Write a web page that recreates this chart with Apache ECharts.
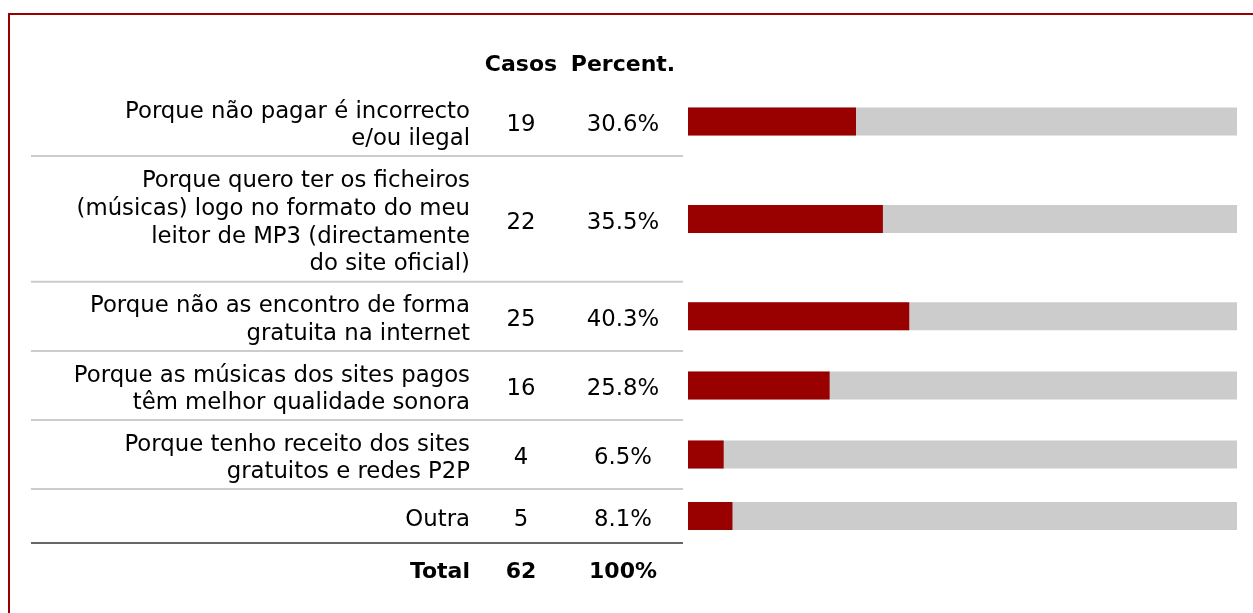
<!DOCTYPE html>
<html>
<head>
<meta charset="utf-8">
<script src="https://cdn.jsdelivr.net/npm/echarts@6/dist/echarts.min.js"></script>
<style>
  html, body { margin: 0; padding: 0; background: #ffffff; }
  #chart { width: 1253px; height: 613px; }
</style>
</head>
<body>
<div id="chart"></div>
<script>
// ---- data ----
const categories = [
  "Porque não pagar é incorrecto\ne/ou ilegal",
  "Porque quero ter os ficheiros\n(músicas) logo no formato do meu\nleitor de MP3 (directamente\ndo site oficial)",
  "Porque não as encontro de forma\ngratuita na internet",
  "Porque as músicas dos sites pagos\ntêm melhor qualidade sonora",
  "Porque tenho receito dos sites\ngratuitos e redes P2P",
  "Outra"
];
const casos = [19, 22, 25, 16, 4, 5];
const percent = [30.6, 35.5, 40.3, 25.8, 6.5, 8.1];
const headers = ["Casos", "Percent."];
const totalRow = ["Total", "62", "100%"];

// ---- layout (pixels) ----
const W = 1253, H = 613;
const FONT = '"DejaVu Sans", Verdana, sans-serif';
const FS = 22.8, FSB = 22, LH = 27.6;
const TXT_DY = 4;
const HEADER_Y = 65;
const FIRST_TOP = 87;
const LABEL_RIGHT = 470, CASOS_X = 521, PCT_X = 623;
const LINE_L = 31, LINE_R = 683;
const BAR_H = 28;
const RED = '#990000', TRACK = '#cccccc';

function rowHeight(n) { return Math.max(n * 28.3 + 12.5, 54); }
const rows = [];
let rowTop = FIRST_TOP;
categories.forEach((c, i) => {
  const n = c.split('\n').length;
  const h = rowHeight(n);
  rows.push({ top: rowTop, bottom: rowTop + h, center: rowTop + h / 2 });
  rowTop += h;
});
const tableBottom = rowTop;
const totalCenter = tableBottom + 28;

const seriesData = categories.map((c, i) => [percent[i], rows[i].center, i]);

const chart = echarts.init(document.getElementById('chart'), null, { renderer: 'canvas' });

chart.setOption({
  backgroundColor: '#ffffff',
  animation: false,
  grid: { left: 688, right: W - 1237, top: 0, bottom: 0 },
  xAxis: { type: 'value', min: 0, max: 100, show: false },
  yAxis: { type: 'value', min: 0, max: H, inverse: true, show: false },
  series: [{
    type: 'custom',
    data: seriesData,
    clip: false,
    renderItem: function (params, api) {
      const i = api.value(2);
      const pct = api.value(0);
      const cy = api.value(1);
      const p0 = api.coord([0, cy]);
      const p1 = api.coord([100, cy]);
      const pv = api.coord([pct, cy]);
      const r = rows[i];
      const ty = cy + TXT_DY;
      const children = [
        { type: 'rect', shape: { x: p0[0], y: p0[1] - BAR_H / 2, width: p1[0] - p0[0], height: BAR_H }, style: { fill: TRACK } },
        { type: 'rect', shape: { x: p0[0], y: p0[1] - BAR_H / 2, width: pv[0] - p0[0], height: BAR_H }, style: { fill: RED } },
        { type: 'text', style: { text: categories[i], x: LABEL_RIGHT, y: ty, align: 'right', verticalAlign: 'middle', font: FS + 'px ' + FONT, lineHeight: LH, fill: '#000' } },
        { type: 'text', style: { text: String(casos[i]), x: CASOS_X, y: ty, align: 'center', verticalAlign: 'middle', font: FS + 'px ' + FONT, fill: '#000' } },
        { type: 'text', style: { text: percent[i].toFixed(1) + '%', x: PCT_X, y: ty, align: 'center', verticalAlign: 'middle', font: FS + 'px ' + FONT, fill: '#000' } }
      ];
      const last = i === categories.length - 1;
      children.push({
        type: 'line',
        shape: { x1: LINE_L, y1: r.bottom, x2: LINE_R, y2: r.bottom },
        style: { stroke: last ? '#666666' : '#cccccc', lineWidth: 2 }
      });
      return { type: 'group', children: children };
    }
  }],
  graphic: [
    { type: 'polyline', shape: { points: [[9, H + 5], [9, 14], [W + 5, 14]] }, style: { stroke: RED, lineWidth: 2, fill: null } },
    { type: 'text', style: { text: headers[0], x: CASOS_X, y: HEADER_Y, align: 'center', verticalAlign: 'middle', font: 'bold ' + FSB + 'px ' + FONT, fill: '#000' } },
    { type: 'text', style: { text: headers[1], x: PCT_X, y: HEADER_Y, align: 'center', verticalAlign: 'middle', font: 'bold ' + FSB + 'px ' + FONT, fill: '#000' } },
    { type: 'text', style: { text: totalRow[0], x: LABEL_RIGHT, y: totalCenter + 1, align: 'right', verticalAlign: 'middle', font: 'bold ' + FSB + 'px ' + FONT, fill: '#000' } },
    { type: 'text', style: { text: totalRow[1], x: CASOS_X, y: totalCenter + 1, align: 'center', verticalAlign: 'middle', font: 'bold ' + FSB + 'px ' + FONT, fill: '#000' } },
    { type: 'text', style: { text: totalRow[2], x: PCT_X, y: totalCenter + 1, align: 'center', verticalAlign: 'middle', font: 'bold ' + FSB + 'px ' + FONT, fill: '#000' } }
  ]
});
</script>
</body>
</html>
